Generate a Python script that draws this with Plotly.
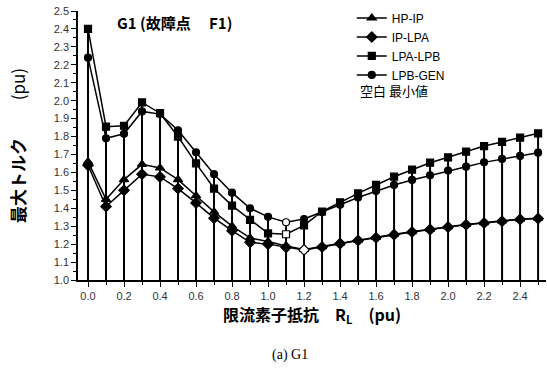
import numpy as np
import plotly.graph_objects as go

# Limiting-resistor value R_L (pu)
r_l = [0.0, 0.1, 0.2, 0.3, 0.4, 0.5, 0.6, 0.7, 0.8, 0.9, 1.0, 1.1, 1.2,
       1.3, 1.4, 1.5, 1.6, 1.7, 1.8, 1.9, 2.0, 2.1, 2.2, 2.3, 2.4, 2.5]

# Maximum shaft torque (pu) for each shaft section
hp_ip = [1.66, 1.45, 1.56, 1.645, 1.625, 1.56, 1.47, 1.38, 1.30, 1.235, 1.215, 1.19, 1.17,
         1.186, 1.205, 1.222, 1.238, 1.255, 1.27, 1.283, 1.297, 1.31, 1.32, 1.33, 1.34, 1.345]
ip_lpa = [1.64, 1.41, 1.50, 1.59, 1.575, 1.51, 1.43, 1.345, 1.275, 1.21, 1.20, 1.182, 1.168,
          1.184, 1.203, 1.220, 1.236, 1.253, 1.268, 1.281, 1.295, 1.308, 1.318, 1.328, 1.338, 1.343]
lpa_lpb = [2.40, 1.855, 1.86, 1.99, 1.93, 1.80, 1.65, 1.51, 1.415, 1.335, 1.26, 1.255, 1.305,
           1.382, 1.433, 1.483, 1.53, 1.576, 1.615, 1.654, 1.684, 1.716, 1.747, 1.77, 1.794, 1.818]
lpb_gen = [2.24, 1.79, 1.815, 1.94, 1.925, 1.835, 1.712, 1.59, 1.487, 1.40, 1.352, 1.322, 1.34,
           1.378, 1.42, 1.46, 1.496, 1.53, 1.558, 1.584, 1.61, 1.632, 1.656, 1.675, 1.692, 1.71]

series = [
    ("HP-IP", hp_ip, "triangle-up", 8),
    ("IP-LPA", ip_lpa, "diamond", 8),
    ("LPA-LPB", lpa_lpb, "square", 7),
    ("LPB-GEN", lpb_gen, "circle", 7),
]

sans = "Liberation Sans, Arial, sans-serif"
cjk = "Noto Sans CJK JP, sans-serif"

# plot box in pixels
L, R, T, B = 78, 546, 11, 280


def px(xp):
    return (xp - L) / (R - L)


def py(yp):
    return (B - yp) / (B - T)


fig = go.Figure()

# Drop lines from the baseline up to the largest value at each R_L
top = np.max(np.array([s[1] for s in series]), axis=0)
base = 1.0
dx, dy = [], []
for xv, tv in zip(r_l, top):
    dx += [xv, xv, None]
    dy += [base, tv, None]
fig.add_trace(go.Scatter(x=dx, y=dy, mode="lines", line=dict(color="black", width=2),
                         showlegend=False, hoverinfo="skip"))

# Each series; its minimum point is drawn hollow
for name, vals, sym, size in series:
    imin = int(np.argmin(vals))
    fills = ["white" if i == imin else "black" for i in range(len(vals))]
    fig.add_trace(go.Scatter(
        x=r_l, y=vals, name=name, mode="lines+markers",
        line=dict(color="black", width=1.5),
        marker=dict(symbol=sym, size=size, color=fills,
                    line=dict(color="black", width=1.2)),
    ))

fig.update_layout(
    width=547, height=370,
    margin=dict(l=L, r=547 - R, t=T, b=370 - B),
    paper_bgcolor="white", plot_bgcolor="white",
    font=dict(family=sans, color="black"),
    legend=dict(x=0.585, y=1.028, xanchor="left", yanchor="top",
                bgcolor="rgba(0,0,0,0)", font=dict(family=sans, size=12, color="black"),
                tracegroupgap=0),
    showlegend=True,
)

fig.add_annotation(text="<b>G1 (故障点　 F1)</b>", x=px(115), y=py(10),
                   xref="paper", yref="paper", xanchor="left", showarrow=False,
                   font=dict(family=cjk, size=15, color="#000000"))
fig.add_annotation(text="空白 最小値", x=px(358), y=py(79),
                   xref="paper", yref="paper", xanchor="left", showarrow=False,
                   font=dict(family=cjk, size=13, color="#000000"))
fig.add_annotation(text="(a) G1", x=px(290), y=py(365),
                   xref="paper", yref="paper", showarrow=False,
                   font=dict(family="Liberation Serif, serif", size=14, color="#000000"))

fig.update_xaxes(
    range=[-0.0556, 2.544], dtick=0.2, tick0=0, tickformat=".1f",
    showgrid=False, zeroline=False, showline=True, linecolor="black", linewidth=1.5,
    ticks="outside", ticklen=5, tickwidth=1.2, tickcolor="black",
    minor=dict(dtick=0.1, ticks="outside", ticklen=3, tickcolor="black"),
    tickfont=dict(family=sans, size=11, color="#333"),
    title=dict(text="<b>限流素子抵抗　R<sub>L</sub>　(pu)</b>", standoff=8,
               font=dict(family=cjk, size=16, color="#000000")),
)
fig.update_yaxes(
    range=[1.0, 2.5], dtick=0.1, tick0=1.0, tickformat=".1f",
    showgrid=False, zeroline=False, showline=True, linecolor="black", linewidth=1.5,
    ticks="outside", ticklen=5, tickwidth=1.2, tickcolor="black",
    minor=dict(dtick=0.05, ticks="outside", ticklen=3, tickcolor="black"),
    tickfont=dict(family=sans, size=11, color="#333"),
    title=dict(text="<b>最大トルク</b>　　 (pu)", standoff=24,
               font=dict(family=cjk, size=17, color="#000000")),
)

fig.write_html("out.html")
